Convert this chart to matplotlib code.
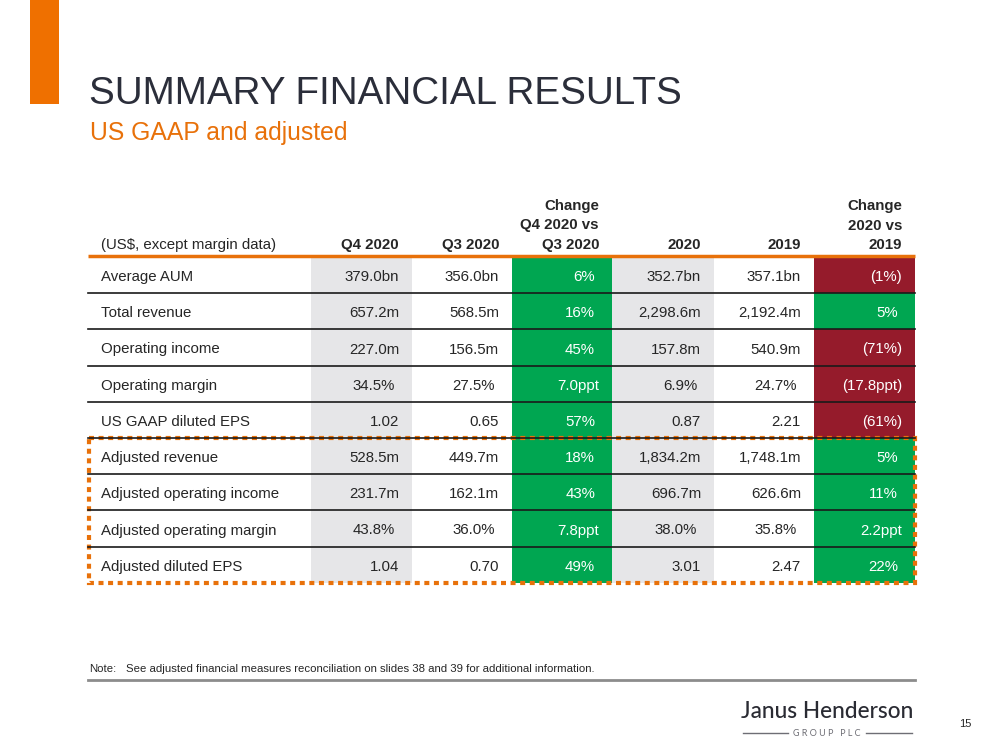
import matplotlib
matplotlib.use('Agg')
import matplotlib.pyplot as plt
from matplotlib.patches import Rectangle

plt.rcParams['font.family'] = ['Liberation Sans', 'DejaVu Sans']

# table data
row_labels = ['Average AUM', 'Total revenue', 'Operating income', 'Operating margin',
              'US GAAP diluted EPS', 'Adjusted revenue', 'Adjusted operating income',
              'Adjusted operating margin', 'Adjusted diluted EPS']
col_headers = ['Q4 2020', 'Q3 2020', 'Change\nQ4 2020 vs\nQ3 2020', '2020', '2019',
               'Change\n2020 vs\n2019']
q4_2020 = ['379.0bn', '657.2m', '227.0m', '34.5%', '1.02', '528.5m', '231.7m', '43.8%', '1.04']
q3_2020 = ['356.0bn', '568.5m', '156.5m', '27.5%', '0.65', '449.7m', '162.1m', '36.0%', '0.70']
chg_q = ['6%', '16%', '45%', '7.0ppt', '57%', '18%', '43%', '7.8ppt', '49%']
fy_2020 = ['352.7bn', '2,298.6m', '157.8m', '6.9%', '0.87', '1,834.2m', '696.7m', '38.0%', '3.01']
fy_2019 = ['357.1bn', '2,192.4m', '540.9m', '24.7%', '2.21', '1,748.1m', '626.6m', '35.8%', '2.47']
chg_y = ['(1%)', '5%', '(71%)', '(17.8ppt)', '(61%)', '5%', '11%', '2.2ppt', '22%']
columns = [q4_2020, q3_2020, chg_q, fy_2020, fy_2019, chg_y]
is_change = [False, False, True, False, False, True]
shaded = [True, False, False, True, False, False]
n_adjusted = 4

ORANGE = '#E8710A'
GREEN = '#00A651'
RED = '#951B2B'
GREY = '#E6E6E8'
TXT = '#262626'

fig = plt.figure(figsize=(10, 7.5), dpi=100)
ax = fig.add_axes([0, 0, 1, 1])
ax.set_xlim(0, 1000)
ax.set_ylim(750, 0)
ax.axis('off')

# slide header
ax.add_patch(Rectangle((30, 0), 29, 104, color='#EF7000', lw=0))
ax.text(89, 104, 'SUMMARY FINANCIAL RESULTS', fontsize=27.8, color='#2B2E3A', va='baseline')
ax.text(90, 140, 'US GAAP and adjusted', fontsize=17.8, color=ORANGE, va='baseline')

# table geometry
edges = [88, 311, 412, 512, 612, 714, 814, 915]
top = 257
row_h = 36.2
n = len(row_labels)
bottom = top + n * row_h

# column fills
for j, vals in enumerate(columns):
    x0, x1 = edges[j + 1], edges[j + 2]
    for i, v in enumerate(vals):
        y0 = top + i * row_h
        if is_change[j]:
            fc = RED if v.startswith('(') else GREEN
        elif shaded[j]:
            fc = GREY
        else:
            continue
        ax.add_patch(Rectangle((x0, y0), x1 - x0, row_h + 0.5, color=fc, lw=0))

# row separators
for i in range(1, n):
    y = top + i * row_h
    ax.plot([edges[0], edges[-1]], [y, y], color='#1a1a1a', lw=1.2)
ax.plot([edges[0], edges[-1]], [top - 1.5, top - 1.5], color=ORANGE, lw=2.5, solid_capstyle='butt')

# headers
ax.text(101, 249, '(US$, except margin data)', fontsize=10.8, color=TXT, va='baseline')
for j, h in enumerate(col_headers):
    ax.text(edges[j + 2] - 13, 249, h, fontsize=10.8, fontweight='bold', color=TXT,
            ha='right', va='baseline', linespacing=1.5)

# cells
for i, lab in enumerate(row_labels):
    yb = top + (i + 0.5) * row_h + 6
    ax.text(101, yb, lab, fontsize=10.8, color=TXT, va='baseline')
    for j, vals in enumerate(columns):
        v = vals[i]
        pad = 17 if v.endswith('%') else 13
        col = 'white' if is_change[j] else TXT
        ax.text(edges[j + 2] - pad, yb, v, fontsize=10.8, color=col, ha='right', va='baseline')

# dotted box round the adjusted rows
y_adj = top + (n - n_adjusted) * row_h
ax.add_patch(Rectangle((edges[0] + 1, y_adj), edges[-1] - edges[0] - 1, bottom - y_adj,
                       fill=False, ec=ORANGE, lw=3, ls=(0, (1.2, 1.1))))

# note and footer
ax.text(89, 672, 'Note:', fontsize=8.2, color=TXT, va='baseline')
ax.text(126, 672, 'See adjusted financial measures reconciliation on slides 38 and 39 for additional information.',
        fontsize=8.2, color=TXT, va='baseline')
ax.plot([88, 915], [680, 680], color='#8C8C8C', lw=2)

ax.text(827, 718, 'Janus Henderson', fontsize=16.3, color='#2A2B33', ha='center', va='baseline',
        family=['Lato', 'DejaVu Sans'], fontweight='medium')
ax.text(827, 733, 'G R O U P   P L C', fontsize=6.5, color='#6E6E75', ha='center', va='center',
        family=['Lato', 'DejaVu Sans'])
ax.plot([743, 788], [733, 733], color='#6E6E75', lw=1)
ax.plot([866, 912], [733, 733], color='#6E6E75', lw=1)
ax.text(965, 727, '15', fontsize=8, color=TXT, ha='center', va='baseline')

fig.savefig('out.png', dpi=100)
